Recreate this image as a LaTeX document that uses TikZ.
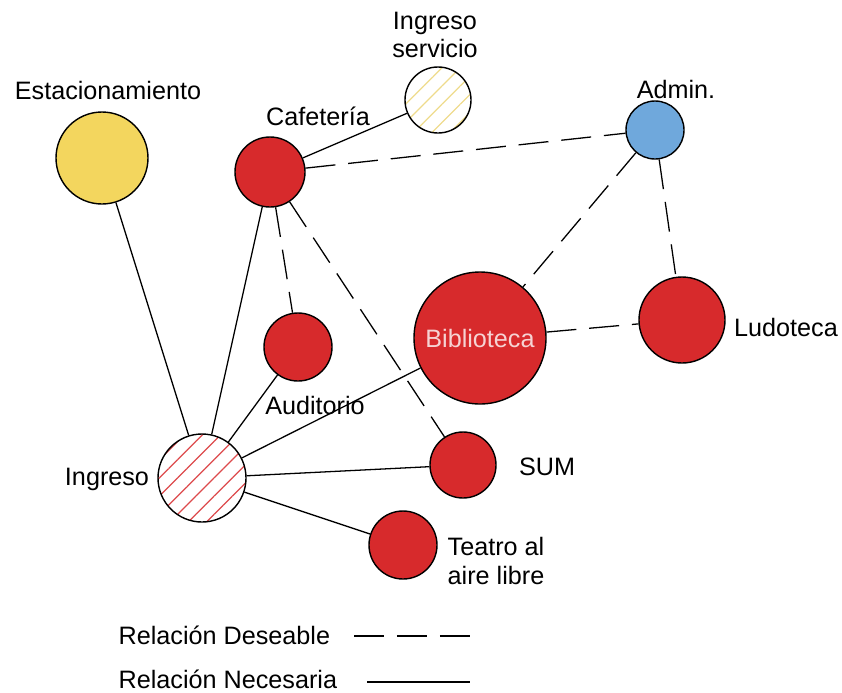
\documentclass[tikz,border=0pt]{standalone}
\usepackage{fontspec}
\setmainfont{Liberation Sans}
\usetikzlibrary{patterns.meta}
\definecolor{cred}{HTML}{D72A2C}
\definecolor{cyellow}{HTML}{F3D65E}
\definecolor{chatch}{HTML}{EEDB8C}
\definecolor{cblue}{HTML}{6FA8DC}
\definecolor{cpale}{HTML}{F6D3D3}
\tikzset{
  every picture/.style={line width=1.2pt},
  room/.style={circle, draw=black, fill=#1, inner sep=0pt},
  hatched/.style={circle, draw=black, inner sep=0pt, pattern={Lines[angle=45, distance=11pt, line width=1.1pt]}, pattern color=#1},
  need/.style={draw=black, line width=1.1pt},
  desire/.style={draw=black, line width=1.1pt, dash pattern=on 25.6pt off 11pt},
  txt/.style={font=\fontsize{21.5}{24}\selectfont, align=center, inner sep=0pt},
}

\begin{document}
\begin{tikzpicture}[x=0.03cm, y=-0.03cm]
  \useasboundingbox (0,0) rectangle (842,692);
  % ---------------- rooms
  \node[room=cyellow, minimum size=2.76cm] (est) at (102,158) {};
  \node[room=cred, minimum size=2.1cm] (caf) at (270,172) {};
  \node[hatched=chatch, minimum size=1.98cm] (serv) at (438,100) {};
  \node[room=cblue, minimum size=1.74cm] (adm) at (655,130) {};
  \node[room=cred, minimum size=3.96cm, txt, text=cpale] (bib) at (480,338) {Biblioteca};
  \node[room=cred, minimum size=2.58cm] (lud) at (682,320) {};
  \node[room=cred, minimum size=2.04cm] (aud) at (298,347) {};
  \node[hatched=cred!85, minimum size=2.64cm] (ing) at (202,478) {};
  \node[room=cred, minimum size=1.98cm] (sum) at (463,465) {};
  \node[room=cred, minimum size=2.04cm] (tea) at (403,545) {};
  % ---------------- names
  \node[txt] (estL) at (108,90) {Estacionamiento};
  \node[txt] (cafL) at (318,116) {Cafetería};
  \node[txt] (servL) at (435,35) {Ingreso\\servicio};
  \node[txt] (admL) at (676,89) {Admin.};
  \node[txt] (ludL) at (786,327) {Ludoteca};
  \node[txt] (audL) at (315,405) {Auditorio};
  \node[txt] (ingL) at (107,479) {Ingreso};
  \node[txt] (sumL) at (547,467) {SUM};
  \node[txt, align=left, anchor=west] (teaL) at (447,561) {Teatro al\\aire libre};
  % ---------------- necessary relations
  \draw[need] (est) -- (ing);
  \draw[need] (caf) -- (ing);
  \draw[need] (caf) -- (serv);
  \draw[need] (aud) -- (ing);
  \draw[need] (bib) -- (ing);
  \draw[need] (sum) -- (ing);
  \draw[need] (tea) -- (ing);
  % ---------------- desirable relations
  \draw[desire] (caf) -- (adm);
  \draw[desire] (caf) -- (aud);
  \draw[desire] (caf) -- (sum);
  \draw[desire] (adm) -- (bib);
  \draw[desire] (adm) -- (lud);
  \draw[desire] (bib) -- (lud);
  % ---------------- legend
  \node[txt, anchor=west] (desL) at (118,635) {Relación Deseable};
  \node[txt, anchor=west] (necL) at (118,679) {Relación Necesaria};
  \coordinate (desA) at (354,636);
  \coordinate (desB) at (470,636);
  \coordinate (necA) at (367,682);
  \coordinate (necB) at (470,682);
  \draw[desire] (desA) -- (desB);
  \draw[need] (necA) -- (necB);
\end{tikzpicture}
\end{document}
